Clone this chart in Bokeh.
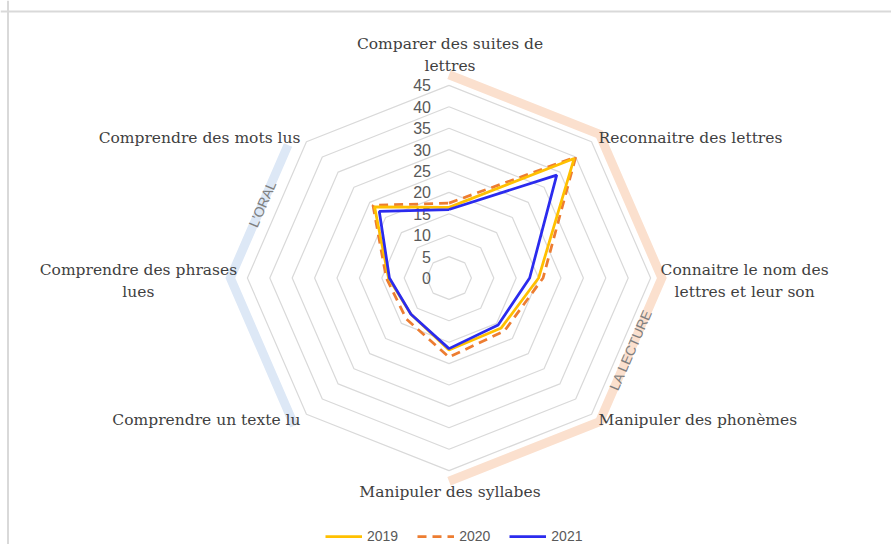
import numpy as np
from bokeh.plotting import figure
from bokeh.models import Range1d, Span, Legend, LegendItem
from bokeh.core.properties import value
from bokeh.embed import file_html
from bokeh.resources import INLINE

# ---------------- data ----------------
categories = [
    "Comparer des suites de\nlettres",
    "Reconnaitre des lettres",
    "Connaitre le nom des\nlettres et leur son",
    "Manipuler des phonèmes",
    "Manipuler des syllabes",
    "Comprendre un texte lu",
    "Comprendre des phrases\nlues",
    "Comprendre des mots lus",
]
years = ["2019", "2020", "2021"]
v2019 = [16.5, 39.5, 20.0, 16.5, 16.8, 12.0, 13.5, 23.5]
v2020 = [17.5, 40.0, 21.0, 17.5, 18.5, 13.5, 14.0, 24.0]
v2021 = [16.0, 34.0, 18.0, 15.5, 16.5, 12.0, 13.3, 22.0]
ticks = [0, 5, 10, 15, 20, 25, 30, 35, 40, 45]
group_names = ["LA LECTURE", "L'ORAL"]

# ---------------- geometry / styles ----------------
W, H = 891, 544
PXX, PXY = 4.48, 4.28          # pixels per unit
CX, CY = 448.5, 277.5          # centre in frame pixels
RMAX = 45
n = len(categories)
theta = np.pi / 2 - np.arange(n) * 2 * np.pi / n

def pol(r, i):
    return r * np.cos(theta[i]), r * np.sin(theta[i])

x_range = Range1d(-CX / PXX, (W - CX) / PXX)
y_range = Range1d(-(H - CY) / PXY, CY / PXY)

p = figure(width=W, height=H, x_range=x_range, y_range=y_range,
           output_backend="svg", toolbar_location=None, min_border=0,
           x_axis_type=None, y_axis_type=None)
p.grid.visible = False
p.outline_line_color = None
p.background_fill_color = "white"
p.border_fill_color = "white"

# chart frame lines (top and left)
p.add_layout(Span(location=x_range.start + 7.5 / PXX, dimension="height",
                  line_color="#d9d9d9", line_width=2))
p.add_layout(Span(location=y_range.end - 11 / PXY, dimension="width",
                  line_color="#d9d9d9", line_width=2))

# group bands
RB_L = 47.5
bx = [pol(RB_L, i)[0] for i in range(0, 5)]
by = [pol(RB_L, i)[1] for i in range(0, 5)]
p.line(bx, by, line_color="#FBE0CE", line_width=9, line_join="miter")

RB_O = 48.8
v7 = np.array(pol(RB_O, 7)); v6 = np.array(pol(RB_O, 6)); v5 = np.array(pol(RB_O, 5))
s = v6 + 0.9 * (v7 - v6)
p.line([s[0], v6[0], v5[0]], [s[1], v6[1], v5[1]],
       line_color="#DDE8F6", line_width=9, line_join="miter")

def edge_angle(a, b):
    dx = (b[0] - a[0]) * PXX
    dy = (b[1] - a[1]) * PXY
    ang = np.arctan2(dy, dx)
    if ang > np.pi / 2:
        ang -= np.pi
    if ang < -np.pi / 2:
        ang += np.pi
    return ang

a3 = np.array(pol(RB_L, 3)); a2 = np.array(pol(RB_L, 2))
m = (a2 + a3) / 2
p.text([m[0]], [m[1]], text=[group_names[0]], angle=edge_angle(a3, a2),
       text_align="center", text_baseline="middle",
       text_font=value("Liberation Sans"), text_font_size="14px", text_color="#7f7f7f")
m = (v6 + v7) / 2
p.text([m[0]], [m[1]], text=[group_names[1]], angle=edge_angle(v6, v7),
       text_align="center", text_baseline="middle",
       text_font=value("Liberation Sans"), text_font_size="14px", text_color="#7f7f7f")

# grid rings
ring_xs, ring_ys = [], []
for r in ticks[1:]:
    xs = [pol(r, i % n)[0] for i in range(n + 1)]
    ys = [pol(r, i % n)[1] for i in range(n + 1)]
    ring_xs.append(xs); ring_ys.append(ys)
p.multi_line(ring_xs, ring_ys, line_color="#d9d9d9", line_width=1.2)

# radial tick labels
p.text(x=[0] * len(ticks), y=ticks, text=[str(t) for t in ticks],
       text_align="right", text_baseline="middle", x_offset=-18,
       text_font=value("Liberation Sans"), text_font_size="16px", text_color="#595959")

# series
def closed(vals):
    xs = [vals[i % n] * np.cos(theta[i % n]) for i in range(n + 1)]
    ys = [vals[i % n] * np.sin(theta[i % n]) for i in range(n + 1)]
    return xs, ys

x20, y20 = closed(v2020)
r20 = p.line(x20, y20, line_color="#ED7D31", line_width=2.75, line_dash="9 6")
x19, y19 = closed(v2019)
r19 = p.line(x19, y19, line_color="#FFC000", line_width=2.75)
x21, y21 = closed(v2021)
r21 = p.line(x21, y21, line_color="#2B2BEE", line_width=2.75)

# category labels
label_style = [
    ("center", "bottom", 1, -10),
    ("left", "middle", 7, -4),
    ("center", "middle", 94, 3),
    ("left", "middle", 7, 6),
    ("center", "top", 1, 12),
    ("right", "middle", -6, 6),
    ("center", "middle", -109, 3),
    ("right", "middle", -6, -4),
]
for i, (lab, (al, bl, xo, yo)) in enumerate(zip(categories, label_style)):
    x, y = pol(RMAX, i)
    p.text([x], [y], text=[lab], text_align=al, text_baseline=bl,
           x_offset=xo, y_offset=yo, text_line_height=1.25,
           text_font=value("DejaVu Serif"), text_font_size="15.5px",
           text_color="#3f3f3f")

legend = Legend(items=[LegendItem(label=years[0], renderers=[r19]),
                       LegendItem(label=years[1], renderers=[r20]),
                       LegendItem(label=years[2], renderers=[r21])],
                location=(325, 0), orientation="horizontal",
                glyph_width=37, glyph_height=14, label_height=14,
                label_standoff=5, spacing=19, padding=0, margin=0,
                background_fill_alpha=0, border_line_color=None,
                label_text_font="Liberation Sans", label_text_font_size="14px",
                label_text_color="#595959")
p.add_layout(legend)

open("out.html", "w").write(file_html(p, INLINE))
